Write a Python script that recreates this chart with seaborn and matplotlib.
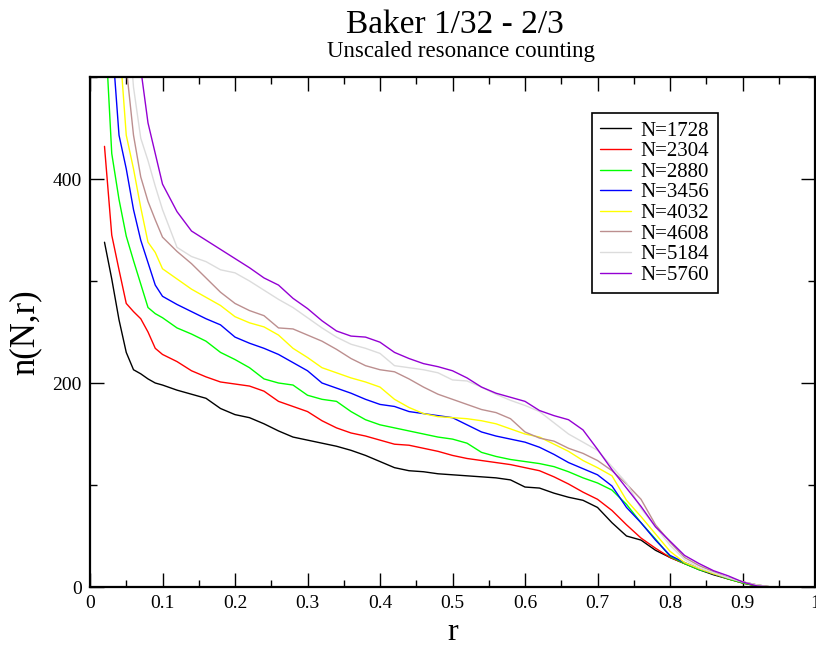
import numpy as np
import pandas as pd
import matplotlib
matplotlib.use("Agg")
import matplotlib.pyplot as plt
import seaborn as sns
from matplotlib.ticker import MultipleLocator

r = [0.02, 0.03, 0.04, 0.05, 0.06, 0.07, 0.08, 0.09, 0.10, 0.12, 0.14, 0.16, 0.18,
     0.20, 0.22, 0.24, 0.26, 0.28, 0.30, 0.32, 0.34, 0.36, 0.38, 0.40, 0.42, 0.44,
     0.46, 0.48, 0.50, 0.52, 0.54, 0.56, 0.58, 0.60, 0.62, 0.64, 0.66, 0.68, 0.70,
     0.72, 0.74, 0.76, 0.78, 0.80, 0.82, 0.84, 0.86, 0.88, 0.90, 0.92, 0.94, 0.96, 1.00]

n_1728 = [338, 302, 262, 230, 213, 209, 204, 200, 198, 193, 189, 185, 175,
          169, 166, 160, 153, 147, 144, 141, 138, 134, 129, 123, 117, 114,
          113, 111, 110, 109, 108, 107, 105, 98, 97, 92, 88, 85, 78,
          63, 50, 46, 36, 29, 23, 17, 12, 8, 4, 1, 0, 0, 0]
n_2304 = [432, 345, 311, 278, 270, 263, 250, 234, 228, 221, 212, 206, 201,
          199, 197, 192, 182, 177, 172, 163, 156, 151, 148, 144, 140, 139,
          136, 133, 129, 126, 124, 122, 120, 117, 114, 108, 101, 93, 86,
          75, 61, 48, 38, 29, 23, 18, 13, 8, 4, 1, 0, 0, 0]
n_2880 = [560, 425, 380, 344, 320, 297, 274, 268, 264, 254, 248, 241, 230,
          223, 215, 204, 200, 198, 188, 184, 182, 172, 164, 159, 156, 153,
          150, 147, 145, 141, 132, 128, 125, 123, 121, 118, 113, 107, 102,
          95, 81, 63, 47, 30, 23, 17, 13, 8, 4, 1, 0, 0, 0]
n_3456 = [600, 540, 443, 410, 370, 340, 318, 296, 285, 277, 270, 263, 257,
          245, 239, 234, 228, 220, 212, 200, 195, 190, 184, 179, 177, 172,
          170, 168, 166, 159, 152, 148, 145, 142, 137, 130, 122, 116, 110,
          99, 78, 63, 46, 31, 24, 18, 13, 9, 5, 2, 0, 0, 0]
n_4032 = [640, 600, 540, 443, 410, 372, 338, 328, 312, 302, 292, 284, 276,
          265, 259, 255, 247, 234, 225, 215, 210, 205, 201, 196, 184, 176,
          170, 167, 166, 165, 163, 160, 155, 150, 147, 140, 133, 124, 117,
          109, 85, 69, 52, 35, 24, 18, 13, 9, 5, 2, 0, 0, 0]
n_4608 = [700, 650, 580, 510, 443, 402, 378, 360, 343, 329, 317, 303, 289,
          278, 271, 266, 254, 253, 247, 241, 233, 224, 217, 213, 211, 204,
          196, 189, 184, 179, 174, 171, 165, 152, 146, 143, 136, 131, 124,
          114, 101, 86, 61, 44, 29, 21, 15, 9, 5, 2, 0, 0, 0]
n_5184 = [800, 750, 680, 580, 490, 440, 418, 393, 370, 333, 324, 319, 311,
          308, 300, 291, 282, 274, 264, 254, 245, 238, 234, 229, 217, 215,
          213, 210, 203, 202, 196, 189, 183, 178, 172, 161, 150, 142, 134,
          118, 102, 77, 59, 41, 27, 19, 14, 9, 5, 2, 0, 0, 0]
n_5760 = [900, 850, 780, 700, 600, 508, 455, 425, 395, 368, 349, 340, 331,
          322, 313, 303, 296, 283, 273, 261, 251, 246, 245, 240, 230, 224,
          219, 216, 212, 205, 196, 190, 186, 182, 173, 168, 164, 154, 135,
          115, 97, 79, 59, 45, 31, 23, 16, 11, 5, 1, 0, 0, 0]

labels = ["N=1728", "N=2304", "N=2880", "N=3456", "N=4032", "N=4608", "N=5184", "N=5760"]
series = [n_1728, n_2304, n_2880, n_3456, n_4032, n_4608, n_5184, n_5760]
colors = ["#000000", "#ff0000", "#00ff00", "#0000ff", "#ffff00", "#bc8f8f", "#dcdcdc", "#9400d3"]

rows = []
for lab, vals in zip(labels, series):
    for x, y in zip(r, vals):
        rows.append({"r": x, "n": y, "N": lab})
df = pd.DataFrame(rows)

sns.set_theme(style="ticks")
plt.rcParams["font.family"] = ["Liberation Serif", "DejaVu Serif"]
for k in ["text.color", "axes.labelcolor", "xtick.color", "ytick.color", "axes.edgecolor"]:
    plt.rcParams[k] = "black"

fig = plt.figure(figsize=(8.16, 6.54), dpi=100)
ax = fig.add_axes([90 / 816, 1 - 587 / 654, 725 / 816, 510 / 654])

sns.lineplot(data=df, x="r", y="n", hue="N", palette=colors, hue_order=labels,
             estimator=None, sort=False, linewidth=1.0, ax=ax, legend=False)

ax.set_xlim(0, 1)
ax.set_ylim(0, 500)
ax.xaxis.set_minor_locator(MultipleLocator(0.05))
ax.yaxis.set_minor_locator(MultipleLocator(100))
ax.set_xticks(np.arange(0, 1.01, 0.1))
ax.set_xticklabels(["0", "0.1", "0.2", "0.3", "0.4", "0.5", "0.6", "0.7", "0.8", "0.9", "1"])
ax.set_yticks([0, 200, 400])
ax.set_yticklabels(["0", "200", "400"])
ax.tick_params(which="major", direction="in", length=10, width=1.0,
               top=True, right=True, labelsize=14, pad=6)
ax.tick_params(which="minor", direction="in", length=5, width=1.0,
               top=True, right=True)
for s in ax.spines.values():
    s.set_linewidth(1.6)
    s.set_color("black")

ax.set_xlabel("r", fontsize=23, labelpad=4)
ax.set_ylabel("n(N,r)", fontsize=25, labelpad=8)

handles = [plt.Line2D([], [], color=c, linewidth=1.0) for c in colors]
leg = ax.legend(handles, labels, loc="upper right", bbox_to_anchor=(0.866, 0.93),
                fontsize=15, frameon=True, fancybox=False, shadow=False,
                handlelength=1.5, handletextpad=0.45, labelspacing=0.05,
                borderpad=0.4, borderaxespad=0.0)
leg.get_frame().set_edgecolor("black")
leg.get_frame().set_linewidth(1.2)
leg.get_frame().set_alpha(1.0)

fig.text(455 / 816, 1 - 33 / 654, "Baker 1/32 - 2/3", ha="center", va="baseline", fontsize=24)
fig.text(461 / 816, 1 - 57 / 654, "Unscaled resonance counting", ha="center", va="baseline", fontsize=16.5)

fig.savefig("out.png", dpi=100)
